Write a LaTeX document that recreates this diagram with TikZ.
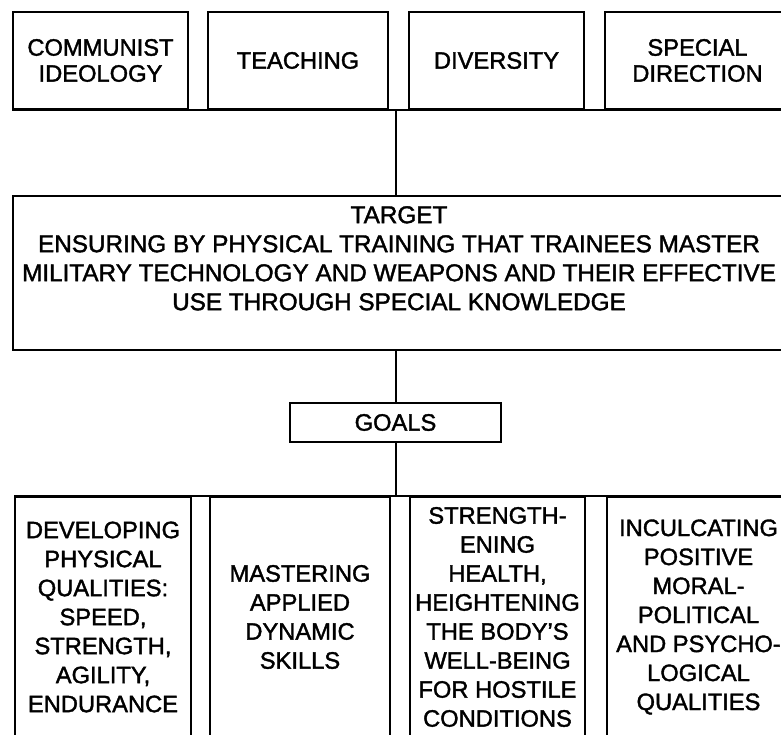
\documentclass[tikz,border=0pt]{standalone}
\usepackage{fontspec}
\setmainfont{Liberation Sans}[FakeBold=1.6]

\tikzset{
  plainbox/.style={draw, line width=2pt, inner sep=0pt, align=center,
    font=\fontsize{23.7}{29}\selectfont},
  topbox/.style={plainbox, minimum height=97pt, font=\fontsize{23.7}{26}\selectfont},
  goalbox/.style={plainbox, minimum height=240pt},
  plaintext/.style={inner sep=0pt, align=center, font=\fontsize{24.3}{29}\selectfont}
}

\begin{document}
\begin{tikzpicture}[x=1pt, y=-1pt]
      \useasboundingbox (0,0) rectangle (781,734);
      \clip (0,0) rectangle (781,734);
      \draw
        (100.5,60.5) node[topbox, minimum width=175pt] (ideology){COMMUNIST\\IDEOLOGY}
        (298,60.5) node[topbox, minimum width=180pt] (teaching){TEACHING}
        (496.5,60.5) node[topbox, minimum width=175pt] (diversity){DIVERSITY}
        (697.5,60.5) node[topbox, minimum width=185pt] (direction){SPECIAL\\DIRECTION}
        (401.5,273) node[plainbox, minimum width=777pt, minimum height=154pt] (target){}
        (399,206) node[plaintext, anchor=north] (targettext){TARGET\\
          ENSURING BY PHYSICAL TRAINING THAT TRAINEES MASTER\\
          MILITARY TECHNOLOGY AND WEAPONS AND THEIR EFFECTIVE\\
          USE THROUGH SPECIAL KNOWLEDGE}
        (395.5,422.5) node[plainbox, minimum width=211pt, minimum height=39pt] (goals){GOALS}
        (103,617) node[goalbox, minimum width=176pt] (physical){DEVELOPING\\PHYSICAL\\QUALITIES:\\SPEED,\\STRENGTH,\\AGILITY,\\ENDURANCE}
        (300,617) node[goalbox, minimum width=180pt] (skills){MASTERING\\APPLIED\\DYNAMIC\\SKILLS}
        (497.5,617) node[goalbox, minimum width=175pt] (health){STRENGTH-\\ENING\\HEALTH,\\HEIGHTENING\\THE BODY'S\\WELL-BEING\\FOR HOSTILE\\CONDITIONS}
        (698.5,617) node[goalbox, minimum width=183pt] (qualities){INCULCATING\\POSITIVE\\MORAL-\\POLITICAL\\AND PSYCHO-\\LOGICAL\\QUALITIES};
      \begin{scope}[-, line width=2pt]
        \draw (ideology.south west) to (direction.south east);
        \draw (physical.north west) to (qualities.north east);
        \draw (goals |- ideology.south) to (goals |- target.north);
        \draw (goals |- target.south) to (goals.north);
        \draw (goals.south) to (goals |- physical.north);
      \end{scope}
    \end{tikzpicture}
\end{document}
